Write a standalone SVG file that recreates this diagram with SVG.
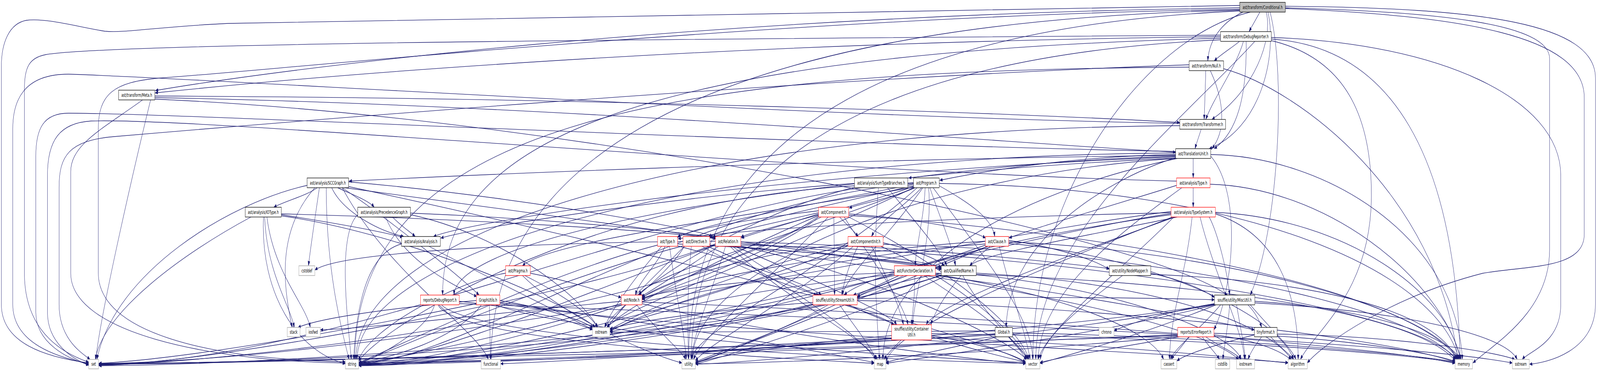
<svg xmlns="http://www.w3.org/2000/svg" width="7013" height="948" viewBox="0 0 7013 948" preserveAspectRatio="none">
<style>
svg:root{width:100vw;height:100vh}
rect{stroke-width:1.3}
.nb rect{fill:#fff;stroke:#000}
.nr rect{fill:#fff;stroke:#f00}
.ng rect{fill:#fff;stroke:#bfbfbf;stroke-width:2}
.nroot rect{fill:#bfbfbf;stroke:#000}
text{font-family:"DejaVu Sans","Liberation Sans",sans-serif;font-size:12.8px;text-anchor:middle;fill:#000}
#edges path{fill:none;stroke:#191970;stroke-width:1.3;marker-end:url(#a)}
</style>
<defs>
<marker id="a" markerUnits="userSpaceOnUse" markerWidth="13" markerHeight="10" refX="12" refY="4.5" orient="auto"><path d="M0,0 L12,4.5 L0,9 Z" fill="#191970" stroke="#191970" stroke-width="0.5"/></marker>
</defs>
<rect width="7013" height="948" fill="#fff" stroke="none"/>
<g id="edges">
<path d="M 5434,14 C 3500,25 1800,40 1000,60 C 700,68 550,85 460,80 C 350,70 200,45 116,52 C 40,60 6,110 6,170 L 6,780 C 6,880 200,915 389,930"/>
<path d="M 5350,90 C 3000,100 500,110 200,140 C 130,148 107,170 107,230 L 107,700 C 107,860 300,910 389,928"/>
<path d="M 5171,316 C 3500,300 900,200 300,190 C 100,190 56,260 56,330 L 56,780 C 56,880 250,915 389,932"/>
<path d="M 5153,388 C 3500,370 800,290 300,290 C 190,290 157,330 157,400 L 157,800 C 157,880 300,920 389,934"/>
<path d="M 5157,464 C 3500,440 900,300 400,310 C 260,315 208,360 208,450 L 208,800 C 208,880 320,920 389,936"/>
<path d="M 5212,166 C 3500,200 900,330 500,350 C 300,360 259,400 259,480 L 259,780 C 259,870 360,905 395,921"/>
<path d="M 625,256 C 450,330 310,370 310,440 L 310,700 C 310,850 900,925 1514,930"/>
<path d="M 5434,24 C 3500,40 1200,180 700,200 C 500,210 431,240 431,330 L 431,700 C 431,850 900,920 1514,927"/>
<path d="M 5522,31 C 5505,50 5488,66 5475,81"/>
<path d="M 5448,31 C 5380,50 5300,90 5294,156"/>
<path d="M 5550,31 C 5580,100 5500,230 5312,306"/>
<path d="M 5558,31 C 5600,150 5520,330 5300,381"/>
<path d="M 5567,31 C 5640,200 5600,600 5480,756"/>
<path d="M 5434,20 C 3000,40 1200,180 681,232"/>
<path d="M 5434,26 C 2800,60 2152,500 2152,921"/>
<path d="M 5434,28 C 3500,80 3018,500 3018,921"/>
<path d="M 5480,31 C 5000,100 4527,500 4527,921"/>
<path d="M 5634,20 C 6300,30 6792,60 6792,150 L 6792,640 C 6792,800 6550,880 6456,930"/>
<path d="M 5634,22 C 6400,40 6944,90 6944,250 L 6944,600 C 6944,690 6700,680 6500,700 C 6100,760 5800,880 5730,930"/>
<path d="M 5634,16 C 6500,20 6993,60 6993,200 L 6993,780 C 6993,900 6780,930 6704,933"/>
<path d="M 5433,106 C 5400,122 5350,140 5322,156"/>
<path d="M 5450,106 C 5420,170 5320,250 5285,306"/>
<path d="M 5462,106 C 5466,250 5420,340 5322,381"/>
<path d="M 5350,94 C 3000,110 1300,200 680,238"/>
<path d="M 5350,98 C 2600,140 1940,400 1940,756"/>
<path d="M 5500,106 C 5200,300 4540,600 4540,921"/>
<path d="M 5350,102 C 3600,150 3030,500 3030,921"/>
<path d="M 5572,100 C 6100,120 6380,400 6400,921"/>
<path d="M 5572,96 C 6300,110 6841,250 6841,450 L 6841,780 C 6841,880 6700,900 6672,921"/>
<path d="M 5572,104 C 5900,150 6011,300 6011,500 C 6011,750 5760,850 5700,921"/>
<path d="M 5285,181 C 5283,230 5280,270 5278,306"/>
<path d="M 5305,181 C 5360,250 5380,330 5312,381"/>
<path d="M 5212,172 C 3000,180 1560,300 1555,921"/>
<path d="M 5363,176 C 5700,230 6300,500 6390,921"/>
<path d="M 679,246 C 2500,250 4500,290 5171,314"/>
<path d="M 679,250 C 2500,270 4500,370 5153,390"/>
<path d="M 679,254 C 2500,300 5000,600 5380,756"/>
<path d="M 660,256 C 600,400 440,800 420,921"/>
<path d="M 5265,331 C 5255,350 5245,365 5238,381"/>
<path d="M 5171,322 C 3000,330 1560,600 1560,921"/>
<path d="M 5230,406 L 5230,456"/>
<path d="M 5153,396 C 4700,400 4300,440 4119,462"/>
<path d="M 5153,400 C 4600,410 4200,440 3983,456"/>
<path d="M 5153,398 C 3500,410 2000,450 1530,464"/>
<path d="M 5153,402 C 3500,440 2100,560 1900,606"/>
<path d="M 5153,404 C 4900,450 4420,600 4410,839"/>
<path d="M 5153,405 C 3500,450 2000,600 1990,756"/>
<path d="M 5307,400 C 5450,500 5400,750 5321,845"/>
<path d="M 5160,406 C 4400,500 3870,700 3870,921"/>
<path d="M 5307,396 C 5800,400 6380,600 6410,921"/>
<path d="M 5153,392 C 3000,400 1570,650 1565,921"/>
<path d="M 5153,406 C 4000,450 3035,700 3035,921"/>
<path d="M 5157,475 C 4800,540 4500,590 4423,610"/>
<path d="M 5304,472 C 5800,480 6300,700 6405,921"/>
<path d="M 5180,481 C 4900,600 4560,750 4550,921"/>
<path d="M 5230,481 L 5230,531"/>
<path d="M 5133,545 C 4000,560 3200,590 2972,612"/>
<path d="M 5160,556 C 4800,600 4300,650 4250,681"/>
<path d="M 5300,556 C 5340,600 5380,700 5390,756"/>
<path d="M 5327,548 C 5600,600 5690,750 5690,921"/>
<path d="M 5225,556 C 5200,700 5130,800 5126,921"/>
<path d="M 5327,544 C 5900,560 6350,750 6400,921"/>
<path d="M 5133,550 C 4500,600 3800,700 3700,756"/>
<path d="M 5150,556 C 4700,650 4100,780 4060,832"/>
<path d="M 5145,556 C 4900,700 4570,850 4560,921"/>
<path d="M 5260,556 C 5320,700 5450,850 5455,921"/>
<path d="M 5140,556 C 4500,700 3900,850 3885,928"/>
<path d="M 5133,542 C 4300,600 1900,915 433,932"/>
<path d="M 5133,547 C 4300,620 2600,915 1572,928"/>
<path d="M 4010,481 C 3900,510 3780,520 3722,533"/>
<path d="M 4040,481 C 3960,530 3850,570 3820,606"/>
<path d="M 4055,481 C 4050,560 4012,640 4012,681"/>
<path d="M 4076,481 C 4120,560 4170,620 4188,681"/>
<path d="M 4045,481 C 3900,600 3720,700 3690,756"/>
<path d="M 4004,472 C 3600,520 3100,570 2970,607"/>
<path d="M 4004,476 C 3600,530 3200,580 3105,606"/>
<path d="M 4004,478 C 3700,540 3300,590 3247,608"/>
<path d="M 4117,476 C 4250,520 4350,560 4360,606"/>
<path d="M 4004,480 C 3200,560 2400,620 2290,681"/>
<path d="M 4010,481 C 3500,600 2850,700 2800,756"/>
<path d="M 4070,481 C 4090,600 4010,750 4000,832"/>
<path d="M 4090,481 C 4300,650 4520,800 4527,921"/>
<path d="M 4020,481 C 3600,700 3040,850 3030,921"/>
<path d="M 4004,481 C 3400,650 2700,800 2660,839"/>
<path d="M 4117,470 C 5500,480 6300,700 6395,921"/>
<path d="M 4004,470 C 3000,520 2000,930 1572,932"/>
<path d="M 4004,468 C 3000,500 1500,930 433,934"/>
<path d="M 3745,470 C 3000,500 2100,580 1932,610"/>
<path d="M 3890,481 C 4000,560 4120,640 4150,681"/>
<path d="M 3850,481 C 3820,700 3850,850 3855,921"/>
<path d="M 3745,476 C 2500,520 1650,850 1572,926"/>
<path d="M 3745,480 C 3200,560 2700,780 2650,839"/>
<path d="M 1390,481 C 1350,500 1250,515 1200,531"/>
<path d="M 1480,481 C 1550,500 1620,515 1640,531"/>
<path d="M 1454,481 C 1500,540 1650,590 1770,606"/>
<path d="M 1400,481 C 1380,560 1360,640 1352,681"/>
<path d="M 1380,481 C 1200,600 1250,750 1280,839"/>
<path d="M 1500,481 C 1700,560 2000,700 2100,756"/>
<path d="M 1528,466 C 2200,500 2900,570 3140,606"/>
<path d="M 1510,481 C 2500,560 3700,650 4128,690"/>
<path d="M 1346,475 C 1000,520 500,700 425,921"/>
<path d="M 1430,481 C 1430,700 1500,850 1530,921"/>
<path d="M 1500,481 C 1700,700 2100,850 2140,921"/>
<path d="M 1528,478 C 2500,600 4300,850 4496,930"/>
<path d="M 1233,550 C 1450,570 1650,590 1765,608"/>
<path d="M 1160,556 C 1170,700 1270,780 1290,839"/>
<path d="M 1170,556 C 1200,700 1340,780 1360,839"/>
<path d="M 1100,556 C 800,650 450,800 418,921"/>
<path d="M 1155,556 C 1140,750 1300,900 1514,932"/>
<path d="M 1233,548 C 2000,560 2900,590 3138,612"/>
<path d="M 1233,553 C 1800,600 2500,780 2610,839"/>
<path d="M 1720,556 C 1760,580 1800,595 1820,606"/>
<path d="M 1690,556 C 1760,660 1950,720 2090,760"/>
<path d="M 1799,546 C 2400,560 2900,590 3140,608"/>
<path d="M 1799,550 C 2200,600 2550,760 2620,839"/>
<path d="M 1568,550 C 1480,600 1520,800 1540,921"/>
<path d="M 3680,556 C 3710,575 3740,590 3762,606"/>
<path d="M 3655,556 L 3658,756"/>
<path d="M 3588,545 C 3400,570 3200,595 3112,608"/>
<path d="M 3588,548 C 3450,575 3300,598 3250,610"/>
<path d="M 3588,540 C 3300,560 3000,590 2970,609"/>
<path d="M 3720,548 C 4000,560 4250,585 4320,610"/>
<path d="M 3600,556 C 3300,650 2900,730 2815,762"/>
<path d="M 3700,556 C 3800,650 3950,760 3980,832"/>
<path d="M 3630,556 C 3400,700 3080,860 3040,921"/>
<path d="M 3720,552 C 5000,600 6200,750 6390,921"/>
<path d="M 3588,552 C 3200,650 2750,780 2660,840"/>
<path d="M 3588,556 C 3300,700 2000,935 1572,933"/>
<path d="M 3720,556 C 4200,700 4480,850 4510,921"/>
<path d="M 3588,554 C 3000,800 1000,930 433,935"/>
<path d="M 1880,631 C 2100,700 2450,800 2600,845"/>
<path d="M 1760,625 C 1600,650 1560,800 1550,921"/>
<path d="M 2915,631 C 2880,680 2800,720 2785,756"/>
<path d="M 2970,625 C 3500,640 4000,670 4126,686"/>
<path d="M 2935,631 C 2960,750 3000,850 3008,921"/>
<path d="M 2900,631 C 2800,700 2680,790 2650,839"/>
<path d="M 2882,628 C 2400,700 1700,900 1572,929"/>
<path d="M 2970,630 C 3300,680 3550,730 3600,756"/>
<path d="M 3000,631 C 2950,680 2850,730 2800,756"/>
<path d="M 3111,628 C 3600,645 4000,675 4126,688"/>
<path d="M 3077,631 C 3250,690 3450,730 3580,756"/>
<path d="M 3100,631 C 3400,700 3750,850 3840,921"/>
<path d="M 3030,631 C 3010,750 3015,850 3018,921"/>
<path d="M 3000,631 C 2850,720 2700,800 2660,842"/>
<path d="M 2994,630 C 2400,720 1700,905 1572,930"/>
<path d="M 3150,631 C 3000,690 2870,740 2810,760"/>
<path d="M 3247,624 C 3700,640 4050,670 4126,684"/>
<path d="M 3247,620 C 4000,630 4600,670 4862,688"/>
<path d="M 3210,631 C 3350,690 3500,740 3590,756"/>
<path d="M 3220,631 C 3500,700 3900,800 3930,832"/>
<path d="M 3200,631 C 3400,750 3800,870 3845,921"/>
<path d="M 3180,631 C 3120,750 3040,850 3030,921"/>
<path d="M 3136,618 C 2500,620 1500,640 1380,692"/>
<path d="M 3247,631 C 4000,700 5200,800 5430,921"/>
<path d="M 3247,628 C 4500,640 6200,780 6385,921"/>
<path d="M 3136,625 C 2600,750 900,935 433,936"/>
<path d="M 3136,628 C 2700,720 1900,920 1572,931"/>
<path d="M 3247,631 C 3800,700 4400,860 4500,921"/>
<path d="M 3871,622 C 4000,640 4100,660 4140,681"/>
<path d="M 3760,631 C 3720,680 3700,720 3690,756"/>
<path d="M 3717,624 C 3300,650 2900,720 2814,764"/>
<path d="M 3820,631 C 3880,700 3940,780 3960,832"/>
<path d="M 3871,626 C 5000,640 6200,780 6380,921"/>
<path d="M 3717,630 C 3000,800 2000,932 1572,934"/>
<path d="M 3860,631 C 4200,720 4470,860 4505,921"/>
<path d="M 3740,631 C 3500,760 3100,880 3048,925"/>
<path d="M 3717,628 C 3200,700 2800,800 2673,845"/>
<path d="M 4421,616 C 4600,630 4780,660 4862,690"/>
<path d="M 4319,618 C 3700,640 3000,720 2814,768"/>
<path d="M 4330,631 C 4100,680 3850,730 3757,760"/>
<path d="M 4340,631 C 4200,700 4100,790 4080,832"/>
<path d="M 4380,631 C 4430,750 4500,860 4515,921"/>
<path d="M 4421,624 C 5000,650 5600,800 5670,921"/>
<path d="M 4421,620 C 5300,640 6250,780 6395,921"/>
<path d="M 4319,625 C 3500,660 2900,780 2673,848"/>
<path d="M 4319,628 C 3500,800 2200,933 1572,935"/>
<path d="M 4330,631 C 3800,760 3200,900 3048,929"/>
<path d="M 2324,700 C 2500,720 2650,750 2723,762"/>
<path d="M 2300,706 C 2450,750 2580,800 2620,839"/>
<path d="M 2216,700 C 2000,720 1600,850 1572,925"/>
<path d="M 2290,706 C 2450,800 2800,900 2989,930"/>
<path d="M 3920,698 C 3400,710 2900,740 2814,766"/>
<path d="M 3960,706 C 3880,730 3780,748 3740,756"/>
<path d="M 4010,706 C 4010,760 4000,800 3995,832"/>
<path d="M 4100,703 C 4700,760 5050,850 5100,921"/>
<path d="M 4100,700 C 5300,720 6200,800 6380,925"/>
<path d="M 3920,703 C 3300,740 2800,800 2673,850"/>
<path d="M 3920,706 C 3200,800 2200,930 1572,936"/>
<path d="M 4050,706 C 4300,800 4480,880 4500,921"/>
<path d="M 3940,706 C 3600,800 3200,900 3048,931"/>
<path d="M 4100,706 C 4800,760 5300,820 5498,845"/>
<path d="M 4126,700 C 3950,720 3800,745 3757,762"/>
<path d="M 4279,700 C 5000,720 5550,820 5660,921"/>
<path d="M 4279,704 C 4900,740 5400,850 5440,921"/>
<path d="M 4126,706 C 3500,820 2200,934 1572,937"/>
<path d="M 4150,706 C 3800,800 3200,910 3048,933"/>
<path d="M 4220,706 C 4300,800 4470,880 4498,925"/>
<path d="M 4126,704 C 3500,850 1200,936 433,937"/>
<path d="M 5044,700 C 5200,720 5280,745 5323,762"/>
<path d="M 5044,703 C 5800,720 6300,800 6385,921"/>
<path d="M 4920,706 C 4750,780 4580,860 4550,921"/>
<path d="M 1905,781 C 1870,850 1640,920 1572,931"/>
<path d="M 2013,778 C 3000,800 6000,860 6629,930"/>
<path d="M 1935,781 C 2100,880 4000,925 4496,931"/>
<path d="M 2013,772 C 2300,790 2500,820 2597,845"/>
<path d="M 1920,781 C 2000,880 3500,920 3832,931"/>
<path d="M 2145,781 L 2150,921"/>
<path d="M 2110,781 C 2000,870 1700,920 1572,929"/>
<path d="M 2191,770 C 2400,790 2550,820 2600,840"/>
<path d="M 2191,775 C 2800,820 3600,900 3832,929"/>
<path d="M 2088,778 C 1500,850 800,920 433,931"/>
<path d="M 2170,781 C 2600,870 4200,920 4496,929"/>
<path d="M 2191,778 C 3000,850 5300,910 5646,929"/>
<path d="M 2088,770 C 1700,790 1400,815 1306,839"/>
<path d="M 2740,781 C 2700,810 2670,830 2660,839"/>
<path d="M 2723,778 C 2300,850 1700,925 1572,930"/>
<path d="M 2723,772 C 2200,800 1600,843 1404,845"/>
<path d="M 2790,781 C 2900,860 2990,900 3005,921"/>
<path d="M 2814,778 C 3400,860 4300,925 4496,932"/>
<path d="M 2814,774 C 4000,800 6000,880 6378,931"/>
<path d="M 3700,781 C 3800,800 3880,815 3918,832"/>
<path d="M 3680,781 C 3750,840 3820,890 3840,921"/>
<path d="M 3630,781 C 3400,860 3100,910 3048,928"/>
<path d="M 3563,775 C 3200,790 2800,820 2673,843"/>
<path d="M 3563,779 C 3000,860 2000,928 1572,932"/>
<path d="M 3563,781 C 3000,870 1500,932 433,932"/>
<path d="M 3720,781 C 4000,860 4400,915 4496,928"/>
<path d="M 3757,770 C 4600,780 6000,850 6380,928"/>
<path d="M 3757,765 C 4400,760 5000,762 5323,768"/>
<path d="M 5470,781 C 5500,800 5520,820 5530,839"/>
<path d="M 5390,781 C 5380,850 5365,890 5360,921"/>
<path d="M 5420,781 C 5440,850 5455,890 5458,921"/>
<path d="M 5323,778 C 5100,800 4950,830 4883,847"/>
<path d="M 5350,781 C 5250,850 5150,890 5130,921"/>
<path d="M 5480,781 C 5580,850 5660,890 5680,921"/>
<path d="M 5500,772 C 6000,790 6350,860 6400,921"/>
<path d="M 5500,776 C 6200,800 6600,860 6650,921"/>
<path d="M 5330,781 C 5000,860 4650,915 4558,931"/>
<path d="M 5323,781 C 4800,860 4000,920 3883,931"/>
<path d="M 5323,780 C 4600,860 3300,930 3048,933"/>
<path d="M 5323,779 C 4400,870 2200,935 1572,934"/>
<path d="M 3950,871 C 3920,890 3890,905 3875,921"/>
<path d="M 3908,860 C 3500,880 3150,910 3048,930"/>
<path d="M 4083,860 C 4300,880 4450,910 4496,928"/>
<path d="M 4083,855 C 5000,860 6100,900 6378,929"/>
<path d="M 4083,866 C 4800,880 5400,915 5646,930"/>
<path d="M 3908,866 C 3000,900 1000,933 433,933"/>
<path d="M 3908,868 C 3200,900 2500,925 2194,932"/>
<path d="M 4420,863 C 4450,885 4490,905 4510,921"/>
<path d="M 4362,855 C 3800,880 2200,930 1572,930"/>
<path d="M 4370,863 C 4200,890 3950,915 3883,929"/>
<path d="M 4362,858 C 3500,890 1000,933 433,931"/>
<path d="M 4438,853 C 5200,860 6100,900 6378,927"/>
<path d="M 4362,848 C 3800,850 3000,850 2673,851"/>
<path d="M 5210,863 C 5180,890 5150,905 5135,921"/>
<path d="M 5270,863 C 5300,890 5330,905 5345,921"/>
<path d="M 5285,863 C 5350,890 5420,905 5440,921"/>
<path d="M 5321,858 C 5500,870 5620,900 5660,923"/>
<path d="M 5321,854 C 5800,860 6250,900 6380,926"/>
<path d="M 5162,860 C 4000,890 1200,934 433,934"/>
<path d="M 5162,858 C 4200,880 2200,931 1572,931"/>
<path d="M 5170,863 C 4900,890 4650,915 4558,929"/>
<path d="M 5162,862 C 4500,900 3400,932 3048,932"/>
<path d="M 5530,863 C 5500,885 5480,905 5470,921"/>
<path d="M 5498,858 C 5350,880 5200,905 5158,925"/>
<path d="M 5598,856 C 6100,860 6550,900 6640,921"/>
<path d="M 5570,863 C 5600,885 5650,905 5670,921"/>
</g>
<g id="n-cond" class="nroot"><rect x="5434" y="6" width="200" height="25"/><text x="5534" y="23">ast/transform/Conditional.h</text></g>
<g id="n-dbgr" class="nb"><rect x="5350" y="81" width="222" height="25"/><text x="5461" y="98">ast/transform/DebugReporter.h</text></g>
<g id="n-null" class="nb"><rect x="5212" y="156" width="151" height="25"/><text x="5287.5" y="173">ast/transform/Null.h</text></g>
<g id="n-meta" class="nb"><rect x="520" y="231" width="159" height="25"/><text x="599.5" y="248">ast/transform/Meta.h</text></g>
<g id="n-transf" class="nb"><rect x="5171" y="306" width="201" height="25"/><text x="5271.5" y="323">ast/transform/Transformer.h</text></g>
<g id="n-tu" class="nb"><rect x="5153" y="381" width="154" height="25"/><text x="5230" y="398">ast/TranslationUnit.h</text></g>
<g id="n-scc" class="nb"><rect x="1346" y="456" width="182" height="25"/><text x="1437" y="473">ast/analysis/SCCGraph.h</text></g>
<g id="n-stb" class="nb"><rect x="3745" y="456" width="234" height="25"/><text x="3862" y="473">ast/analysis/SumTypeBranches.h</text></g>
<g id="n-prog" class="nb"><rect x="4004" y="456" width="113" height="25"/><text x="4060.5" y="473">ast/Program.h</text></g>
<g id="n-atype" class="nr"><rect x="5157" y="456" width="147" height="25"/><text x="5230.5" y="473">ast/analysis/Type.h</text></g>
<g id="n-iot" class="nb"><rect x="1075" y="531" width="158" height="25"/><text x="1154" y="548">ast/analysis/IOType.h</text></g>
<g id="n-prec" class="nb"><rect x="1568" y="531" width="231" height="25"/><text x="1683.5" y="548">ast/analysis/PrecedenceGraph.h</text></g>
<g id="n-comp" class="nr"><rect x="3588" y="531" width="132" height="25"/><text x="3654" y="548">ast/Component.h</text></g>
<g id="n-tsys" class="nr"><rect x="5133" y="531" width="194" height="25"/><text x="5230" y="548">ast/analysis/TypeSystem.h</text></g>
<g id="n-anal" class="nb"><rect x="1760" y="606" width="170" height="25"/><text x="1845" y="623">ast/analysis/Analysis.h</text></g>
<g id="n-type" class="nr"><rect x="2882" y="606" width="88" height="25"/><text x="2926" y="623">ast/Type.h</text></g>
<g id="n-dir" class="nr"><rect x="2994" y="606" width="117" height="25"/><text x="3052.5" y="623">ast/Directive.h</text></g>
<g id="n-rel" class="nr"><rect x="3136" y="606" width="111" height="25"/><text x="3191.5" y="623">ast/Relation.h</text></g>
<g id="n-cinit" class="nr"><rect x="3717" y="606" width="154" height="25"/><text x="3794" y="623">ast/ComponentInit.h</text></g>
<g id="n-clause" class="nr"><rect x="4319" y="606" width="102" height="25"/><text x="4370" y="623">ast/Clause.h</text></g>
<g id="n-cstddef" class="ng"><rect x="1310" y="681" width="70" height="25"/><text x="1345" y="698">cstddef</text></g>
<g id="n-pragma" class="nr"><rect x="2216" y="681" width="108" height="25"/><text x="2270" y="698">ast/Pragma.h</text></g>
<g id="n-functor" class="nr"><rect x="3920" y="681" width="180" height="25"/><text x="4010" y="698">ast/FunctorDeclaration.h</text></g>
<g id="n-qname" class="nb"><rect x="4126" y="681" width="153" height="25"/><text x="4202.5" y="698">ast/QualifiedName.h</text></g>
<g id="n-nmap" class="nb"><rect x="4862" y="681" width="182" height="25"/><text x="4953" y="698">ast/utility/NodeMapper.h</text></g>
<g id="n-dbgrep" class="nr"><rect x="1843" y="756" width="170" height="25"/><text x="1928" y="773">reports/DebugReport.h</text></g>
<g id="n-gutil" class="nr"><rect x="2088" y="756" width="103" height="25"/><text x="2139.5" y="773">GraphUtils.h</text></g>
<g id="n-node" class="nr"><rect x="2723" y="756" width="91" height="25"/><text x="2768.5" y="773">ast/Node.h</text></g>
<g id="n-sutil" class="nr"><rect x="3563" y="756" width="194" height="25"/><text x="3660" y="773">souffle/utility/StreamUtil.h</text></g>
<g id="n-misc" class="nb"><rect x="5323" y="756" width="177" height="25"/><text x="5411.5" y="773">souffle/utility/MiscUtil.h</text></g>
<g id="n-stack" class="ng"><rect x="1259" y="839" width="56" height="24"/><text x="1287" y="855">stack</text></g>
<g id="n-iosfwd" class="ng"><rect x="1341" y="839" width="63" height="24"/><text x="1372.5" y="855">iosfwd</text></g>
<g id="n-ostream" class="ng"><rect x="2597" y="839" width="76" height="24"/><text x="2635" y="855">ostream</text></g>
<g id="n-cutil" class="nr"><rect x="3908" y="832" width="175" height="39"/><text x="3995.5" y="847">souffle/utility/Container</text><text x="3995.5" y="862">Util.h</text></g>
<g id="n-global" class="nb"><rect x="4362" y="839" width="76" height="24"/><text x="4400" y="855">Global.h</text></g>
<g id="n-chrono" class="ng"><rect x="4817" y="839" width="66" height="24"/><text x="4850" y="855">chrono</text></g>
<g id="n-erep" class="nr"><rect x="5162" y="839" width="159" height="24"/><text x="5241.5" y="855">reports/ErrorReport.h</text></g>
<g id="n-tiny" class="nb"><rect x="5498" y="839" width="100" height="24"/><text x="5548" y="855">tinyformat.h</text></g>
<g id="n-set" class="ng"><rect x="389" y="921" width="43" height="24"/><text x="410.5" y="937">set</text></g>
<g id="n-string" class="ng"><rect x="1514" y="921" width="58" height="24"/><text x="1543" y="937">string</text></g>
<g id="n-functional" class="ng"><rect x="2109" y="921" width="85" height="24"/><text x="2151.5" y="937">functional</text></g>
<g id="n-utility" class="ng"><rect x="2989" y="921" width="59" height="24"/><text x="3018.5" y="937">utility</text></g>
<g id="n-map" class="ng"><rect x="3832" y="921" width="51" height="24"/><text x="3857.5" y="937">map</text></g>
<g id="n-vector" class="ng"><rect x="4496" y="921" width="62" height="24"/><text x="4527" y="937">vector</text></g>
<g id="n-cassert" class="ng"><rect x="5089" y="921" width="69" height="24"/><text x="5123.5" y="937">cassert</text></g>
<g id="n-cstdlib" class="ng"><rect x="5327" y="921" width="63" height="24"/><text x="5358.5" y="937">cstdlib</text></g>
<g id="n-iostream" class="ng"><rect x="5420" y="921" width="79" height="24"/><text x="5459.5" y="937">iostream</text></g>
<g id="n-algorithm" class="ng"><rect x="5646" y="921" width="84" height="24"/><text x="5688" y="937">algorithm</text></g>
<g id="n-memory" class="ng"><rect x="6378" y="921" width="76" height="24"/><text x="6416" y="937">memory</text></g>
<g id="n-sstream" class="ng"><rect x="6629" y="921" width="74" height="24"/><text x="6666" y="937">sstream</text></g>
</svg>
